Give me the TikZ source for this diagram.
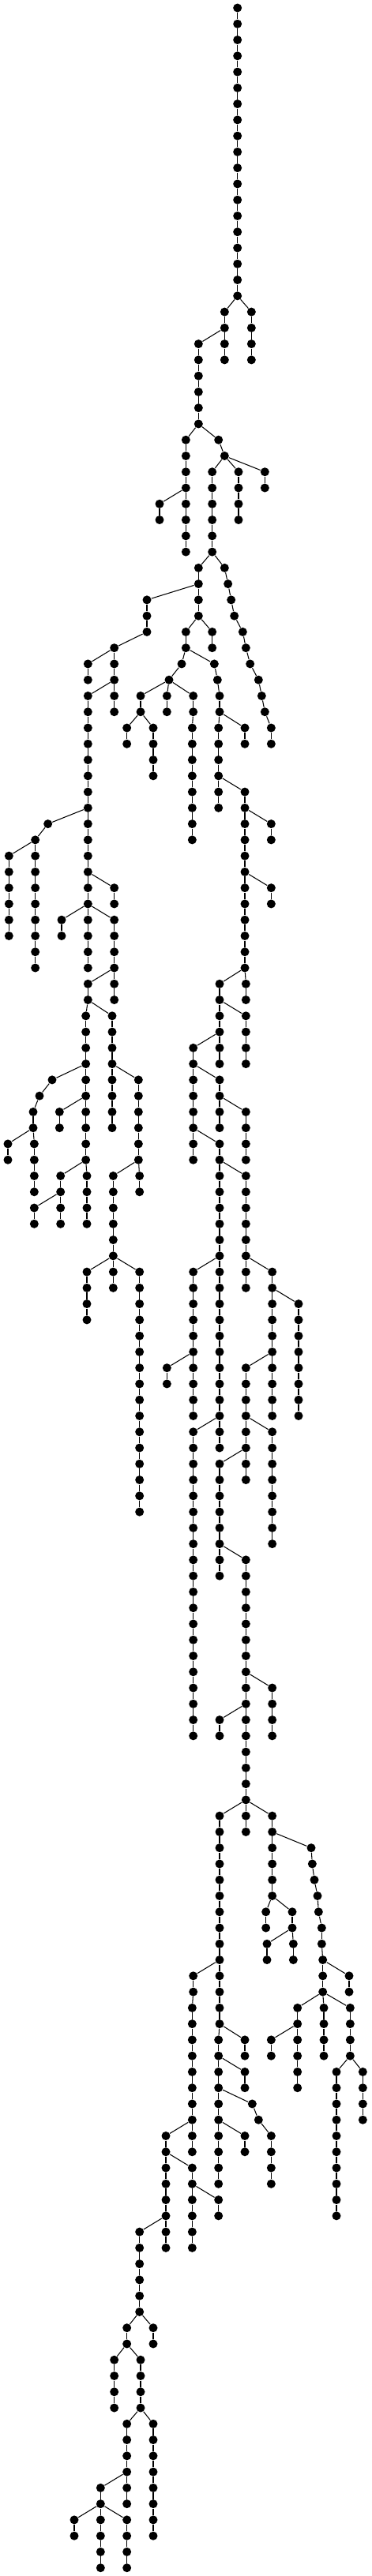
\documentclass[tikz,border=0pt]{standalone}
\tikzset{
    bead/.style={circle, fill=black, inner sep=0pt, minimum size=2.2mm}
}
% #1 name, #2 parent node, #3 first level, #4 x of each level
\newcommand{\limb}[4]{%
    \foreach \cx [count=\lv from #3] in {#4} {
        \pgfmathtruncatemacro{\up}{\lv-1}
        \node[bead] (#1-\lv) at (\cx,\lv) {};
        \ifnum\lv=#3\relax \draw (#2) -- (#1-\lv); \else \draw (#1-\up) -- (#1-\lv); \fi
    }%
}

\begin{document}
\begin{tikzpicture}[x=0.6667cm, y=-0.40533cm, line width=0.6pt]
    \useasboundingbox (0,-0.4934) rectangle (14.1,160.51);
    % trunk
    \node[bead] (t-0) at (9.02,0) {};
    \limb{t}{t-0}{1}{9.02,9.02,9.02,9.02,9.02, 9.02,9.02,9.02,9.02,9.02, 9.02,9.02,9.02,9.02,9.02, 9.02,9.02,9.02}
    \limb{b1}{t-18}{19}{9.55,9.55,9.55,9.55}
    \limb{b2}{t-18}{19}{8.53,8.53,8.53,8.53}
    \limb{b3}{b2-20}{21}{7.54,7.54,7.54,7.54,7.54,7.54}
    \limb{b4}{b3-26}{27}{7.06,7.06,7.06,7.06,7.06,7.06,7.06,7.06}
    \limb{b5}{b4-30}{31}{6.06,6.06}
    \limb{b6}{b3-26}{27}{8.30,8.53,8.06,8.06,8.06,8.06,8.06,8.06}
    \limb{b7}{b6-28}{29}{9.06,9.06,9.06,9.06}
    \limb{b8}{b6-28}{29}{10.06,10.06}
    \limb{b9}{b6-34}{35}{8.53,8.66,8.78,8.90,9.22,9.34,9.50,9.82,9.94,10.06,10.30,10.30}
    \limb{b10}{b6-34}{35}{7.54,7.54,7.54,7.54}
    % left part
    \limb{b11}{b10-36}{37}{5.58,5.58,5.58,4.34,4.34,4.34,4.34,4.34}
    \limb{b12}{b11-40}{41}{3.34,3.34}
    \limb{b13}{b11-42}{43}{3.34,3.34,3.34,3.34,3.34, 3.34,3.34,3.34,3.34,3.34, 3.34,3.34,3.34,3.34,3.34, 3.34,3.34,3.34}
    \limb{b14}{b13-50}{51}{1.82, 1.34,1.34,1.34,1.34,1.34, 1.34,1.34,1.34,1.34}
    \limb{b15}{b14-52}{53}{0.34,0.34,0.34,0.34,0.34,0.34}
    \limb{b16}{b13-54}{55}{4.34,4.34}
    \limb{b17}{b13-56}{57}{2.34,2.34}
    \limb{b18}{b13-56}{57}{4.34,4.34,4.34,4.34,4.34,4.34}
    \limb{b19}{b18-60}{61}{3.34,3.34, 3.26,3.26,3.26,3.26,3.26, 3.26,3.26,3.26,3.26,3.26, 3.30,3.30,3.30,3.30}
    \limb{b20}{b19-62}{63}{4.26,4.26,4.26,4.26,4.26,4.26,4.26,4.26}
    \limb{b21}{b19-66}{67}{1.98,1.50,1.26,1.26,1.30,1.30,1.30,1.30}
    \limb{b22}{b21-70}{71}{0.30,0.30}
    \limb{b23}{b19-68}{69}{2.26,2.26}
    \limb{b24}{b19-72}{73}{2.30,2.30,2.30,2.30}
    \limb{b25}{b24-74}{75}{1.30,1.30}
    \limb{b26}{b20-66}{67}{5.26,5.26,5.26,5.26,5.26,5.26,5.30,5.30}
    \limb{b27}{b26-72}{73}{4.30,4.30,4.30,4.30,4.30,4.30,4.30,4.30}
    \limb{b28}{b27-78}{79}{3.30,3.30,3.30,3.30}
    \limb{b29}{b27-78}{79}{5.30,5.30,5.30,5.30,5.30, 5.30,5.30,5.30,5.30,5.30, 5.30,5.30,5.30,5.30,5.30, 5.30}
    % middle part
    \limb{b30}{b10-38}{39}{7.06,7.06,6.90,6.42}
    \limb{b31}{b10-38}{39}{8.06,8.06}
    \limb{b32}{b30-42}{43}{5.34,5.34}
    \limb{b33}{b32-44}{45}{4.82,4.82}
    \limb{b34}{b32-44}{45}{5.82,5.82,5.82,5.82}
    \limb{b35}{b30-42}{43}{6.34,6.34}
    \limb{b36}{b30-42}{43}{7.34,7.34, 7.30,7.30,7.30,7.30,7.30,7.30,7.30,7.30}
    \limb{b37}{b30-40}{41}{8.14,8.26,8.34,8.34, 8.30,8.30,8.30,8.30,8.30,8.30}
    \limb{b38}{b37-44}{45}{9.30,9.30}
    \limb{b39}{b37-48}{49}{9.30,9.30,9.30,9.30,9.30, 9.30,9.30,9.30,9.30,9.30, 9.30,9.30, 9.34,9.34}
    \limb{b40}{b39-50}{51}{10.30,10.30}
    \limb{b41}{b39-54}{55}{10.30,10.30}
    \limb{b42}{b39-60}{61}{8.34,8.34,8.34,8.34,8.34,8.34}
    \limb{b43}{b42-62}{63}{9.34,9.34,9.34,9.34}
    \limb{b44}{b42-64}{65}{7.34,7.34,7.34,7.34,7.34,7.34,7.34,7.34}
    \limb{b45}{b44-66}{67}{8.34,8.34,8.34,8.34}
    \limb{b46}{b45-68}{69}{9.34,9.34,9.34,9.34}
    \limb{b47}{b44-70}{71}{8.34,8.34,8.34,8.34,8.34, 8.34,8.34,8.34,8.34,8.34, 8.34,8.34,8.34,8.34,8.34, 8.34,8.34,8.34,8.34,8.34}
    \limb{b48}{b47-72}{73}{9.34,9.34,9.34,9.34,9.34,9.34,9.34,9.34}
    \limb{b49}{b47-78}{79}{7.34,7.34,7.34,7.34,7.34, 7.34,7.34,7.34,7.34,7.34}
    \limb{b50}{b49-84}{85}{6.34,6.34}
    \limb{b51}{b48-78}{79}{10.34,10.34,10.34,10.34,10.34, 10.34,10.34,10.34,10.34,10.34}
    \limb{b52}{b51-80}{81}{11.34,11.34,11.34,11.34,11.34,11.34,11.34,11.34}
    \limb{b53}{b51-84}{85}{9.34,9.34,9.34,9.34,9.34,9.34,9.34,9.34}
    \limb{b54}{b47-88}{89}{7.34,7.34,7.34,7.34,7.34, 7.34,7.34,7.34,7.34,7.34, 7.34,7.34,7.34,7.34,7.34, 7.34,7.34,7.34,7.34,7.34}
    \limb{b55}{b53-88}{89}{10.34,10.34,10.34,10.34,10.34,10.34,10.34,10.34}
    \limb{b56}{b53-90}{91}{8.34,8.34,8.34,8.34,8.34,8.34,8.34,8.34}
    \limb{b57}{b56-96}{97}{9.34,9.34,9.34,9.34,9.34, 9.34,9.34,9.34,9.34,9.34, 9.34,9.34,9.34,9.34,9.34, 9.34,9.34,9.34}
    \limb{b58}{b57-104}{105}{10.34,10.34,10.34,10.34}
    \limb{b59}{b57-106}{107}{8.34,8.34}
    % lower part
    \limb{b60}{b57-112}{113}{8.34,8.34,8.34,8.34,8.34, 8.34,8.34,8.34,8.34,8.34, 8.34,8.34,8.34,8.34, 8.30,8.30,8.30,8.30,8.30, 8.30,8.30,8.30,8.30,8.30}
    \limb{b61}{b57-112}{113}{10.34,10.34,10.34,10.34,10.34,10.34}
    \limb{b62}{b61-114}{115}{11.82,11.86,11.94,12.06,12.10,12.22,12.22,12.26,12.26,12.26}
    \limb{b63}{b61-118}{119}{10.10,10.10}
    \limb{b64}{b61-118}{119}{11.10,11.10}
    \limb{b65}{b64-120}{121}{10.14,10.14}
    \limb{b66}{b64-120}{121}{11.14,11.14}
    \limb{b67}{b62-122}{123}{13.26,13.26}
    \limb{b68}{b62-124}{125}{11.30,11.30,11.30,11.30,11.30,11.30}
    \limb{b69}{b68-126}{127}{10.30,10.30}
    \limb{b70}{b62-124}{125}{12.30,12.30,12.30,12.30}
    \limb{b71}{b62-124}{125}{13.30,13.30,13.30,13.30}
    \limb{b72}{b71-128}{129}{12.78,12.78,12.78,12.78,12.78, 12.78,12.78,12.78,12.78,12.78}
    \limb{b73}{b71-128}{129}{13.78,13.78,13.78,13.78}
    \limb{b74}{b60-122}{123}{7.34,7.34, 7.30,7.30,7.30,7.30,7.30, 7.30,7.30,7.30,7.30,7.30}
    \limb{b75}{b60-126}{127}{9.30,9.30}
    \limb{b76}{b60-128}{129}{9.30,9.30}
    \limb{b77}{b60-130}{131}{9.58,9.82,10.30,10.30,10.30,10.30}
    \limb{b78}{b60-132}{133}{9.30,9.30}
    \limb{b79}{b74-132}{133}{6.30,6.30,6.30,6.30,6.30,6.30,6.30,6.30}
    \limb{b80}{b79-134}{135}{7.30,7.30,7.30,7.30,7.30,7.30}
    \limb{b81}{b80-136}{137}{8.30,8.30}
    \limb{b82}{b79-138}{139}{5.30,5.30,5.30,5.30,5.30,5.30}
    \limb{b83}{b82-144}{145}{5.82,5.82}
    \limb{b84}{b82-144}{145}{4.82,4.82}
    \limb{b85}{b84-146}{147}{4.34,4.34,4.34,4.34}
    \limb{b86}{b84-146}{147}{5.34,5.34,5.34,5.34}
    \limb{b87}{b86-150}{151}{5.82,5.82,5.82,5.82,5.82,5.82,5.82,5.82}
    \limb{b88}{b86-150}{151}{4.82,4.82,4.82,4.82,4.82,4.82}
    \limb{b89}{b88-154}{155}{3.82,3.82}
    \limb{b90}{b89-156}{157}{2.82,2.82}
    \limb{b91}{b89-156}{157}{3.82,3.82,3.82,3.82}
    \limb{b92}{b89-156}{157}{4.82,4.82,4.82,4.82}
\end{tikzpicture}
\end{document}
